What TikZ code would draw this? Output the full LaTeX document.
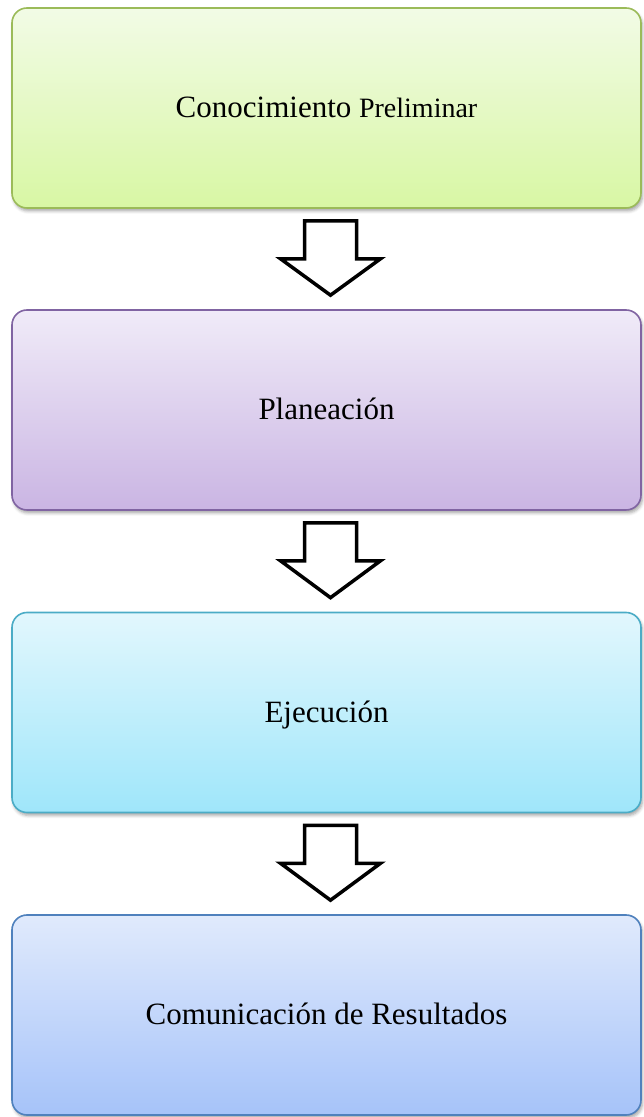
\documentclass[tikz,border=0pt]{standalone}
\usepackage{fontspec}
\setmainfont{Liberation Serif}
\usetikzlibrary{calc,shadows.blur}
\definecolor{gTop}{HTML}{F2FBE6}\definecolor{gBot}{HTML}{D8F7A4}\definecolor{gLine}{HTML}{9BBB59}
\definecolor{pTop}{HTML}{F0EBF8}\definecolor{pBot}{HTML}{CAB5E3}\definecolor{pLine}{HTML}{8064A2}
\definecolor{cTop}{HTML}{E2F7FD}\definecolor{cBot}{HTML}{9FE6FA}\definecolor{cLine}{HTML}{4BACC6}
\definecolor{bTop}{HTML}{E0EAFC}\definecolor{bBot}{HTML}{A6C3F9}\definecolor{bLine}{HTML}{4F81BD}
\tikzset{
  stagebox/.style={rectangle, rounded corners=15pt, line width=1.6pt,
    minimum width=629pt, minimum height=200pt, inner sep=0pt,
    text height=20pt, text depth=0pt,
    font=\fontsize{31}{36}\selectfont,
    blur shadow={shadow xshift=1.5pt, shadow yshift=-3pt, shadow blur radius=3pt, shadow opacity=35}},
  greenbox/.style={stagebox, draw=gLine, top color=gTop, bottom color=gBot},
  purplebox/.style={stagebox, draw=pLine, top color=pTop, bottom color=pBot},
  cyanbox/.style={stagebox, draw=cLine, top color=cTop, bottom color=cBot},
  bluebox/.style={stagebox, draw=bLine, top color=bTop, bottom color=bBot},
  blockarr/.style={draw=black, fill=white, line width=3.5pt, miter limit=10}
}
\newcommand{\downblock}[2]{%
  \coordinate (T) at ($(#1.south)+(4pt,-12pt)$);
  \coordinate (P) at ($(#2.north)+(4pt,14pt)$);
  \draw[blockarr] ($(T)+(-26pt,0pt)$) -- ($(T)+(26pt,0pt)$) -- ($(T)+(26pt,-38pt)$)
     -- ($(T)+(50pt,-38pt)$) -- (P) -- ($(T)+(-50pt,-38pt)$) -- ($(T)+(-26pt,-38pt)$) -- cycle;}
\begin{document}
\begin{tikzpicture}
\useasboundingbox (0pt,0pt) rectangle (643pt,1117pt);
\node[greenbox]  (b1) at (326.5pt,1009pt) {Conocimiento {\fontsize{28}{32}\selectfont Preliminar}};
\node[purplebox] (b2) at (326.5pt,707pt) {Planeación};
\node[cyanbox]   (b3) at (326.5pt,404.5pt) {Ejecución};
\node[bluebox]   (b4) at (326.5pt,102pt) {Comunicación de Resultados};
\downblock{b1}{b2}
\downblock{b2}{b3}
\downblock{b3}{b4}
\end{tikzpicture}
\end{document}
